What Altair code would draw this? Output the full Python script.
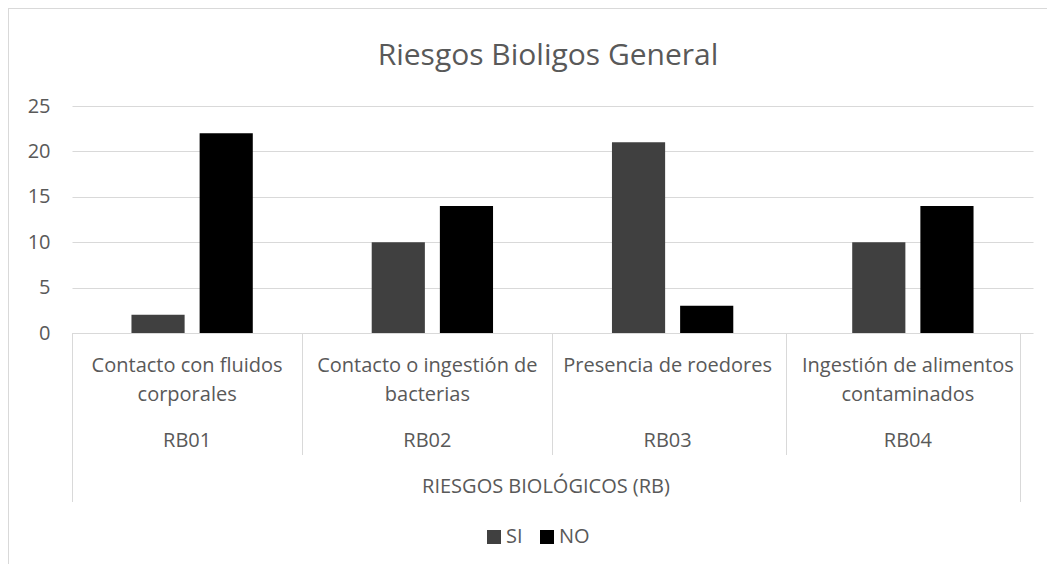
import altair as alt
import pandas as pd

# ---------------- data ----------------
codes = ["RB01", "RB02", "RB03", "RB04"]
descriptions = [
    "Contacto con fluidos|corporales",
    "Contacto o ingestión de|bacterias",
    "Presencia de roedores",
    "Ingestión de alimentos|contaminados",
]
series = ["SI", "NO"]
si_values = [2, 10, 21, 10]
no_values = [22, 14, 3, 14]
y_ticks = [0, 5, 10, 15, 20, 25]
title_text = "Riesgos Bioligos General"
group_label = "RIESGOS BIOLÓGICOS (RB)"

rows = []
for c, s, n in zip(codes, si_values, no_values):
    rows.append({"code": c, "serie": "SI", "valor": s})
    rows.append({"code": c, "serie": "NO", "valor": n})
bars_df = pd.DataFrame(rows)
labels_df = pd.DataFrame({"code": codes, "desc": descriptions})
one = pd.DataFrame({"t": [title_text], "g": [group_label]})

# ---------------- style ----------------
FONT = "Open Sans"
GRAY = "#595959"
LINE = "#d9d9d9"
W, H = 961, 227

x_enc = alt.X(
    "code:N",
    sort=codes,
    axis=None,
    scale=alt.Scale(paddingInner=0.495, paddingOuter=0.2475),
)

bars = alt.Chart(bars_df).mark_bar().encode(
    x=x_enc,
    xOffset=alt.XOffset(
        "serie:N", sort=series, scale=alt.Scale(paddingInner=0.22, paddingOuter=0)
    ),
    y=alt.Y(
        "valor:Q",
        scale=alt.Scale(domain=[0, 25], nice=False),
        axis=alt.Axis(
            values=y_ticks,
            title=None,
            grid=True,
            gridColor=LINE,
            gridWidth=1,
            domain=False,
            ticks=False,
            labelPadding=22,
            labelFont=FONT,
            labelFontSize=20,
            labelColor=GRAY,
        ),
    ),
    color=alt.Color(
        "serie:N",
        sort=series,
        scale=alt.Scale(domain=series, range=["#404040", "#000000"]),
        legend=alt.Legend(
            title=None,
            orient="none",
            direction="horizontal",
            legendX=412,
            legendY=421,
            symbolType="square",
            symbolSize=196,
            symbolStrokeWidth=0,
            labelFont=FONT,
            labelFontSize=20,
            labelColor=GRAY,
            labelOffset=2,
            columnPadding=14,
        ),
    ),
)

desc = alt.Chart(labels_df).mark_text(
    font=FONT, fontSize=20, color=GRAY, baseline="alphabetic",
    lineBreak="|", lineHeight=29, dx=-5,
).encode(x=x_enc, y=alt.value(266), text="desc:N")

code_txt = alt.Chart(labels_df).mark_text(
    font=FONT, fontSize=20, color=GRAY, baseline="alphabetic", dx=-5,
).encode(x=x_enc, y=alt.value(341), text="code:N")

group_txt = alt.Chart(one).mark_text(
    font=FONT, fontSize=20, color=GRAY, baseline="alphabetic"
).encode(x=alt.value(474), y=alt.value(387), text="g:N")

title_txt = alt.Chart(one).mark_text(
    font=FONT, fontSize=30, color=GRAY, baseline="alphabetic"
).encode(x=alt.value(476), y=alt.value(-41), text="t:N")


def vrule(x, y1, y2):
    return alt.Chart(one).mark_rule(color=LINE, strokeWidth=1).encode(
        x=alt.value(x), y=alt.value(y1), y2=alt.value(y2)
    )


def hrule(y, x1, x2, color=LINE, width=1):
    return alt.Chart(one).mark_rule(color=color, strokeWidth=width).encode(
        y=alt.value(y), x=alt.value(x1), x2=alt.value(x2)
    )


dividers = [
    vrule(0.5, H, 396),
    vrule(230.5, H, 349),
    vrule(480.5, H, 349),
    vrule(714.5, H, 349),
    vrule(948.5, H, 396),
]
border = [
    vrule(-63.5, -98, 470),
    hrule(-97.5, -64, 1000),
]

chart = alt.layer(
    *border, bars, *dividers, desc, code_txt, group_txt, title_txt
).properties(
    width=W,
    height=H,
    autosize=alt.AutoSizeParams(type="none"),
    padding={"left": 64, "top": 98, "right": 14, "bottom": 231},
    background="white",
).configure_view(strokeWidth=0)

chart.save("out.html", embed_options={"renderer": "svg", "actions": False})
